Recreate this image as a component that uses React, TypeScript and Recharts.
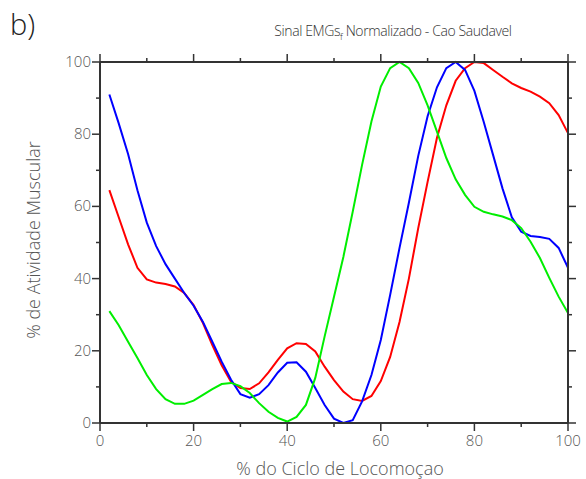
import { LineChart, Line, XAxis, YAxis } from 'recharts';

// % of gait cycle (x) and normalised EMG activity per muscle
const cyclePct = [
  2, 4, 6, 8, 10, 12, 14, 16, 18, 20, 22, 24, 26, 28, 30, 32, 34, 36, 38, 40, 42, 44, 46, 48, 50,
  52, 54, 56, 58, 60, 62, 64, 66, 68, 70, 72, 74, 76, 78, 80, 82, 84, 86, 88, 90, 92, 94, 96, 98, 100,
];
const redSeries = [
  64.5, 57, 49.5, 43, 39.8, 38.9, 38.5, 37.8, 36, 32.7, 27.7, 21.6, 16, 11.4, 9.7, 9.4, 11, 14, 17.5, 20.7,
  22.1, 21.9, 19.8, 15.6, 11.9, 8.7, 6.6, 6.1, 7.5, 11.6, 18.3, 28, 40, 54, 66.8, 79, 88, 94.8, 98.3, 100,
  99.7, 97.8, 95.9, 94.1, 92.8, 91.8, 90.4, 88.6, 85.3, 80.3,
];
const blueSeries = [
  91, 83, 74.5, 64.5, 55.5, 49, 44, 40, 36, 32.5, 28, 22.5, 17, 12, 8, 7, 8, 10.5, 14, 16.7,
  16.8, 14.2, 9.7, 5, 1.2, 0, 0.8, 6, 13.3, 23, 35.5, 48.5, 61, 74, 85, 93, 98.3, 100, 97.8, 92,
  83.4, 74.2, 65, 57, 53, 51.8, 51.5, 51, 48.5, 43,
];
const greenSeries = [
  31, 27.1, 22.5, 18, 13.3, 9.4, 6.6, 5.3, 5.3, 6.2, 7.8, 9.4, 10.8, 11.1, 10.2, 8.3, 5.5, 3.1, 1.4, 0.4,
  1.7, 5, 12.5, 24, 35, 46, 58.5, 71.5, 83.5, 93.2, 98.3, 100, 98.3, 94.2, 88, 80.7, 73.4, 67.5, 63.2, 59.9,
  58.5, 57.8, 57.2, 56.2, 54, 50.2, 45.7, 40.2, 35, 30.5,
];
const axisTicks = [0, 10, 20, 30, 40, 50, 60, 70, 80, 90, 100];

const data = cyclePct.map((x, i) => ({
  x,
  red: redSeries[i],
  blue: blueSeries[i],
  green: greenSeries[i],
}));

const FONT = '"Open Sans", "DejaVu Sans", sans-serif';
const TEXT = '#555';
const AXIS = '#333';

const isMajor = (v: number) => v % 20 === 0;

// outward tick marks (longer on labelled values) plus the label
function makeTick(side: 'bottom' | 'top' | 'left' | 'right') {
  return (props: any) => {
    const { x, y, payload } = props;
    const len = isMajor(payload.value) ? 8 : 4;
    const label = isMajor(payload.value) ? String(payload.value) : '';
    if (side === 'bottom') {
      return (
        <g>
          <line x1={x} x2={x} y1={y} y2={y + len} stroke={AXIS} strokeWidth={1.5} />
          <text x={x} y={y + 23} textAnchor="middle" fill={TEXT} fontSize={15} fontFamily={FONT} fontWeight={300}>
            {label}
          </text>
        </g>
      );
    }
    if (side === 'top') {
      return <line x1={x} x2={x} y1={y} y2={y - len} stroke={AXIS} strokeWidth={1.5} />;
    }
    if (side === 'left') {
      return (
        <g>
          <line x1={x} x2={x - len} y1={y} y2={y} stroke={AXIS} strokeWidth={1.5} />
          <text x={x - 9} y={y + 5} textAnchor="end" fill={TEXT} fontSize={15} fontFamily={FONT} fontWeight={300}>
            {label}
          </text>
        </g>
      );
    }
    return <line x1={x} x2={x + len} y1={y} y2={y} stroke={AXIS} strokeWidth={1.5} />;
  };
}

export default function App() {
  return (
    <div style={{ position: 'absolute', left: 0, top: 0, width: 586, height: 479, background: '#fff' }}>
      <div
        style={{ position: 'absolute', left: 10, top: 4, fontSize: 29, fontFamily: FONT, fontWeight: 300, color: '#222' }}
      >
        b)
      </div>
      <div
        style={{
          position: 'absolute',
          left: 393,
          top: 21,
          transform: 'translateX(-50%)',
          whiteSpace: 'nowrap',
          fontSize: 14,
          letterSpacing: -0.4,
          fontFamily: FONT,
          fontWeight: 300,
          color: '#333',
        }}
      >
        Sinal EMGs<sub style={{ fontSize: 9 }}>f</sub> Normalizado - Cao Saudavel
      </div>
      <div
        style={{
          position: 'absolute',
          left: 340,
          top: 456,
          transform: 'translateX(-50%)',
          whiteSpace: 'nowrap',
          fontSize: 18,
          fontFamily: FONT,
          fontWeight: 300,
          color: TEXT,
        }}
      >
        % do Ciclo de Locomoçao
      </div>
      <div
        style={{
          position: 'absolute',
          left: 33,
          top: 240,
          transform: 'translate(-50%, -50%) rotate(-90deg)',
          whiteSpace: 'nowrap',
          fontSize: 18,
          fontFamily: FONT,
          fontWeight: 300,
          color: TEXT,
        }}
      >
        % de Atividade Muscular
      </div>
      <LineChart
        width={586}
        height={479}
        data={data}
        margin={{ top: 61, right: 17, left: 60, bottom: 26 }}
        style={{ position: 'absolute', left: 0, top: 0 }}
      >
        <XAxis
          dataKey="x"
          type="number"
          domain={[0, 100]}
          ticks={axisTicks}
          height={30}
          tickLine={false}
          tickSize={0}
          tickMargin={0}
          axisLine={{ stroke: AXIS, strokeWidth: 2 }}
          tick={makeTick('bottom')}
          interval={0}
        />
        <XAxis
          xAxisId="top"
          orientation="top"
          dataKey="x"
          type="number"
          domain={[0, 100]}
          ticks={axisTicks}
          height={1}
          tickLine={false}
          tickSize={0}
          tickMargin={0}
          axisLine={{ stroke: AXIS, strokeWidth: 2 }}
          tick={makeTick('top')}
          interval={0}
        />
        <YAxis
          type="number"
          domain={[0, 100]}
          ticks={axisTicks}
          width={40}
          tickLine={false}
          tickSize={0}
          tickMargin={0}
          axisLine={{ stroke: AXIS, strokeWidth: 2 }}
          tick={makeTick('left')}
          interval={0}
        />
        <YAxis
          yAxisId="right"
          orientation="right"
          type="number"
          domain={[0, 100]}
          ticks={axisTicks}
          width={1}
          tickLine={false}
          tickSize={0}
          tickMargin={0}
          axisLine={{ stroke: AXIS, strokeWidth: 2 }}
          tick={makeTick('right')}
          interval={0}
        />
        <Line type="linear" dataKey="red" stroke="#ff0000" strokeWidth={2} dot={false} isAnimationActive={false} />
        <Line type="linear" dataKey="blue" stroke="#0000ff" strokeWidth={2} dot={false} isAnimationActive={false} />
        <Line
          type="linear"
          dataKey="green"
          xAxisId="top"
          yAxisId="right"
          stroke="#00ee00"
          strokeWidth={2}
          dot={false}
          isAnimationActive={false}
        />
      </LineChart>
    </div>
  );
}
